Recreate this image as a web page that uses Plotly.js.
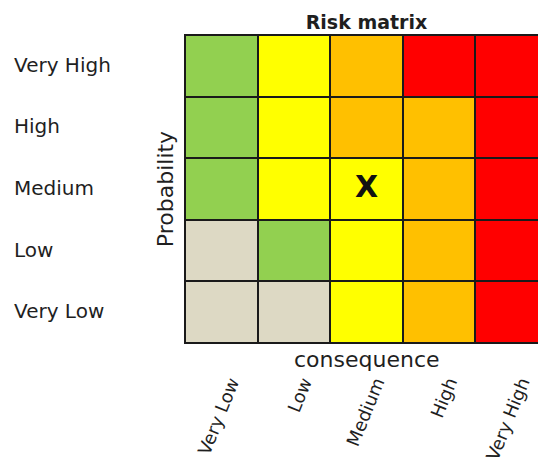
<!DOCTYPE html>
<html>
<head>
<meta charset="utf-8">
<script src="https://cdn.plot.ly/plotly-3.0.1.min.js"></script>
<style>
html,body{margin:0;padding:0;overflow:hidden;background:#fff;}
#chart{width:550px;height:472px;}
</style>
</head>
<body>
<div id="chart"></div>
<script>
// Consequence categories (x) and probability categories (y, bottom to top)
var consequence = ["Very Low", "Low", "Medium", "High", "Very High"];
var probability = ["Very Low", "Low", "Medium", "High", "Very High"];
// Risk level per cell: 0 = negligible (beige), 1 = green, 2 = yellow, 3 = orange, 4 = red
var riskVeryLow  = [0, 0, 2, 3, 4];
var riskLow      = [0, 1, 2, 3, 4];
var riskMedium   = [1, 2, 2, 3, 4];
var riskHigh     = [1, 2, 3, 3, 4];
var riskVeryHigh = [1, 2, 3, 4, 4];
// Marked cell
var markConsequence = ["Medium"];
var markProbability = ["Medium"];
var markText = ["X"];

var levelColors = ["#DDD9C4", "#92D050", "#FFFF00", "#FFC000", "#FF0000"];
var scale = [];
for (var i = 0; i < levelColors.length; i++) {
  scale.push([i / levelColors.length, levelColors[i]]);
  scale.push([(i + 1) / levelColors.length, levelColors[i]]);
}

var FONT = "DejaVu Sans, sans-serif";
var TXT = "#1f1f1f";

var heat = {
  type: "heatmap",
  x: consequence,
  y: probability,
  z: [riskVeryLow, riskLow, riskMedium, riskHigh, riskVeryHigh],
  zmin: -0.5, zmax: 4.5,
  colorscale: scale,
  showscale: false,
  xgap: 2, ygap: 2,
  hoverinfo: "skip"
};

var mark = {
  type: "scatter",
  mode: "text",
  x: markConsequence,
  y: markProbability,
  text: markText,
  textfont: {family: FONT, size: 30, color: "#111", weight: "bold"},
  textposition: "middle center",
  hoverinfo: "skip",
  showlegend: false
};

var annotations = probability.map(function (p) {
  return {
    xref: "paper", yref: "y", x: 0, y: p,
    xanchor: "left", yanchor: "middle", xshift: -173, yshift: 1,
    text: p, showarrow: false,
    font: {family: FONT, size: 20, color: TXT}
  };
});
annotations.push({
  xref: "paper", yref: "paper", x: 0.5, y: 0,
  xanchor: "center", yanchor: "top", yshift: -2,
  text: "consequence", showarrow: false,
  font: {family: FONT, size: 22, color: TXT}
});

var layout = {
  width: 550, height: 472,
  margin: {l: 185, r: 1.5, t: 35, b: 129},
  paper_bgcolor: "#ffffff",
  plot_bgcolor: "#1a1a1a",
  showlegend: false,
  title: {
    text: "<b>Risk matrix</b>",
    font: {family: FONT, size: 19, color: TXT},
    x: 0.5, xref: "paper", xanchor: "center",
    y: 0.953, yref: "container", yanchor: "middle"
  },
  xaxis: {
    type: "category", range: [-0.5, 4.5],
    showgrid: false, zeroline: false,
    showline: true, mirror: true, linecolor: "#1a1a1a", linewidth: 1,
    ticks: "", tickangle: -68, ticklabelstandoff: 21, ticklabelshift: 10,
    tickfont: {family: FONT, size: 18, color: TXT},
    fixedrange: true
  },
  yaxis: {
    type: "category", range: [-0.5, 4.5],
    showgrid: false, zeroline: false,
    showline: true, mirror: true, linecolor: "#1a1a1a", linewidth: 1,
    ticks: "", showticklabels: false,
    title: {text: "Probability", standoff: 4, font: {family: FONT, size: 22, color: TXT}},
    fixedrange: true
  },
  annotations: annotations
};

Plotly.newPlot("chart", [heat, mark], layout, {displayModeBar: false, staticPlot: true});
</script>
</body>
</html>
